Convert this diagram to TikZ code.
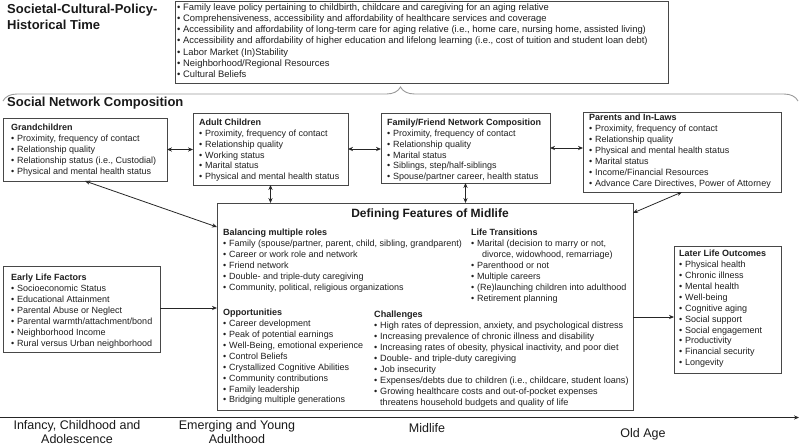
\documentclass[tikz,border=0pt]{standalone}
\usepackage{fontspec}
\setmainfont{Liberation Sans}
\usetikzlibrary{arrows.meta,decorations.pathreplacing,calc}
\newcommand\bl{\makebox[6pt][l]{•}}
\begin{document}
\begin{tikzpicture}[x=1pt,y=-1pt,
  box/.style={draw=black!72,line width=0.9pt,inner sep=0pt,outer sep=0pt,anchor=north west},
  txt/.style={anchor=north west,inner sep=0pt,align=left,text=black!88,font=\fontsize{9}{11}\selectfont},
  big/.style={anchor=north west,inner sep=0pt,align=left,text=black!90,font=\fontsize{13}{15.7}\selectfont\bfseries},
  tl/.style={inner sep=0pt,align=center,text=black!90,font=\fontsize{12.5}{12.5}\selectfont},
  conn/.style={line width=0.8pt,draw=black!85},
  dbl/.style={conn,{Stealth[length=5pt,width=4.2pt]}-{Stealth[length=5pt,width=4.2pt]}},
  sgl/.style={conn,-{Stealth[length=5pt,width=4.2pt]}},
]
\useasboundingbox (0,0) rectangle (800,445);

% titles
\node[big] (t1) at (7,2.5) {\strut Societal-Cultural-Policy-\\Historical Time};
\node[big] (t2) at (7,95.5) {\strut Social Network Composition};

% brace
\coordinate (brL) at (3,101);
\coordinate (brR) at (798,101);
\draw[draw=black!40,line width=0.9pt,decorate,decoration={brace,amplitude=14pt}] (brL) -- (brR);

% boxes
\node[box,minimum width=493pt,minimum height=82pt] (soc) at (175,1) {};
\node[box,minimum width=164pt,minimum height=63pt] (gc) at (3,118) {};
\node[box,minimum width=155pt,minimum height=72pt] (ac) at (193,113) {};
\node[box,minimum width=169pt,minimum height=70pt] (ff) at (381,113) {};
\node[box,minimum width=198pt,minimum height=80pt] (pa) at (583,112) {};
\node[box,minimum width=416pt,minimum height=207pt] (mf) at (217,203) {};
\node[box,minimum width=157pt,minimum height=86pt] (el) at (3,266) {};
\node[box,minimum width=107pt,minimum height=127pt] (ll) at (674,246) {};

% texts
\node[txt,font=\fontsize{9.4}{11.2}\selectfont] (soct) at (177,2.2) {\strut\bl Family leave policy pertaining to childbirth, childcare and caregiving for an aging relative\\
\bl Comprehensiveness, accessibility and affordability of healthcare services and coverage\\
\bl Accessibility and affordability of long-term care for aging relative (i.e., home care, nursing home, assisted living)\\
\bl Accessibility and affordability of higher education and lifelong learning (i.e., cost of tuition and student loan debt)\\
\bl Labor Market (In)Stability\\
\bl Neighborhood/Regional Resources\\
\bl Cultural Beliefs};

\node[txt] (gct) at (11,122.3) {\strut\textbf{Grandchildren}\\
\bl Proximity, frequency of contact\\
\bl Relationship quality\\
\bl Relationship status (i.e., Custodial)\\
\bl Physical and mental health status};

\node[txt,font=\fontsize{9}{10.8}\selectfont] (act) at (199,117.9) {\strut\textbf{Adult Children}\\
\bl Proximity, frequency of contact\\
\bl Relationship quality\\
\bl Working status\\
\bl Marital status\\
\bl Physical and mental health status};

\node[txt,font=\fontsize{9}{10.8}\selectfont] (fft) at (387,117.9) {\strut\textbf{Family/Friend Network Composition}\\
\bl Proximity, frequency of contact\\
\bl Relationship quality\\
\bl Marital status\\
\bl Siblings, step/half-siblings\\
\bl Spouse/partner career, health status};

\node[txt] (pat) at (589,112.3) {\strut\textbf{Parents and In-Laws}\\
\bl Proximity, frequency of contact\\
\bl Relationship quality\\
\bl Physical and mental health status\\
\bl Marital status\\
\bl Income/Financial Resources\\
\bl Advance Care Directives, Power of Attorney};

\node[anchor=base,inner sep=0pt,text=black!90,font=\fontsize{12}{14}\selectfont\bfseries] (mft) at (430,217) {Defining Features of Midlife};

\node[txt] (bal) at (223,227.6) {\strut\textbf{Balancing multiple roles}\\
\bl Family (spouse/partner, parent, child, sibling, grandparent)\\
\bl Career or work role and network\\
\bl Friend network\\
\bl Double- and triple-duty caregiving\\
\bl Community, political, religious organizations};

\node[txt] (lt) at (471,227.6) {\strut\textbf{Life Transitions}\\
\bl Marital (decision to marry or not,\\
\hspace*{11pt}divorce, widowhood, remarriage)\\
\bl Parenthood or not\\
\bl Multiple careers\\
\bl (Re)launching children into adulthood\\
\bl Retirement planning};

\node[txt,font=\fontsize{9}{10.9}\selectfont] (opp) at (223,307.9) {\strut\textbf{Opportunities}\\
\bl Career development\\
\bl Peak of potential earnings\\
\bl Well-Being, emotional experience\\
\bl Control Beliefs\\
\bl Crystallized Cognitive Abilities\\
\bl Community contributions\\
\bl Family leadership\\
\bl Bridging multiple generations};

\node[txt,font=\fontsize{9.1}{11}\selectfont] (cha) at (374,309.8) {\strut\textbf{Challenges}\\
\bl High rates of depression, anxiety, and psychological distress\\
\bl Increasing prevalence of chronic illness and disability\\
\bl Increasing rates of obesity, physical inactivity, and poor diet\\
\bl Double- and triple-duty caregiving\\
\bl Job insecurity\\
\bl Expenses/debts due to children (i.e., childcare, student loans)\\
\bl Growing healthcare costs and out-of-pocket expenses\\
\hspace*{6pt}threatens household budgets and quality of life};

\node[txt] (elt) at (11,272.3) {\strut\textbf{Early Life Factors}\\
\bl Socioeconomic Status\\
\bl Educational Attainment\\
\bl Parental Abuse or Neglect\\
\bl Parental warmth/attachment/bond\\
\bl Neighborhood Income\\
\bl Rural versus Urban neighborhood};

\node[txt,font=\fontsize{9}{10.9}\selectfont] (llt) at (679,248.9) {\strut\textbf{Later Life Outcomes}\\
\bl Physical health\\
\bl Chronic illness\\
\bl Mental health\\
\bl Well-being\\
\bl Cognitive aging\\
\bl Social support\\
\bl Social engagement\\
\bl Productivity\\
\bl Financial security\\
\bl Longevity};

% connectors
\draw[dbl] (gc.east) -- (gc.east -| ac.west);
\draw[dbl] (ac.east) -- (ac.east -| ff.west);
\draw[dbl] (ff.east) -- (ff.east -| pa.west);
\draw[dbl] (ac.south) -- (ac.south |- mf.north);
\draw[dbl] (ff.south) -- (ff.south |- mf.north);
\draw[dbl] (gc.south) -- ([yshift=-24pt]mf.north west);
\draw[dbl] (pa.south) -- ([yshift=-10pt]mf.north east);
\draw[sgl] ([yshift=1pt]el.east) -- ([yshift=1pt]el.east -| mf.west);
\draw[sgl] ([yshift=-10.5pt]mf.east) -- ([yshift=-10.5pt]mf.east -| ll.west);

% timeline
\coordinate (tl0) at (0,417.5);
\coordinate (tl1) at (799,417.5);
\draw[sgl,line width=1pt] (tl0) -- (tl1);
\node[tl,anchor=north] (l1) at (77,420.2) {\strut Infancy, Childhood and\\Adolescence};
\node[tl,anchor=north] (l2) at (237,420.2) {\strut Emerging and Young\\Adulthood};
\node[tl,anchor=base] (l3) at (427,432.5) {Midlife};
\node[tl,anchor=base] (l4) at (643,437.5) {Old Age};
\end{tikzpicture}
\end{document}
